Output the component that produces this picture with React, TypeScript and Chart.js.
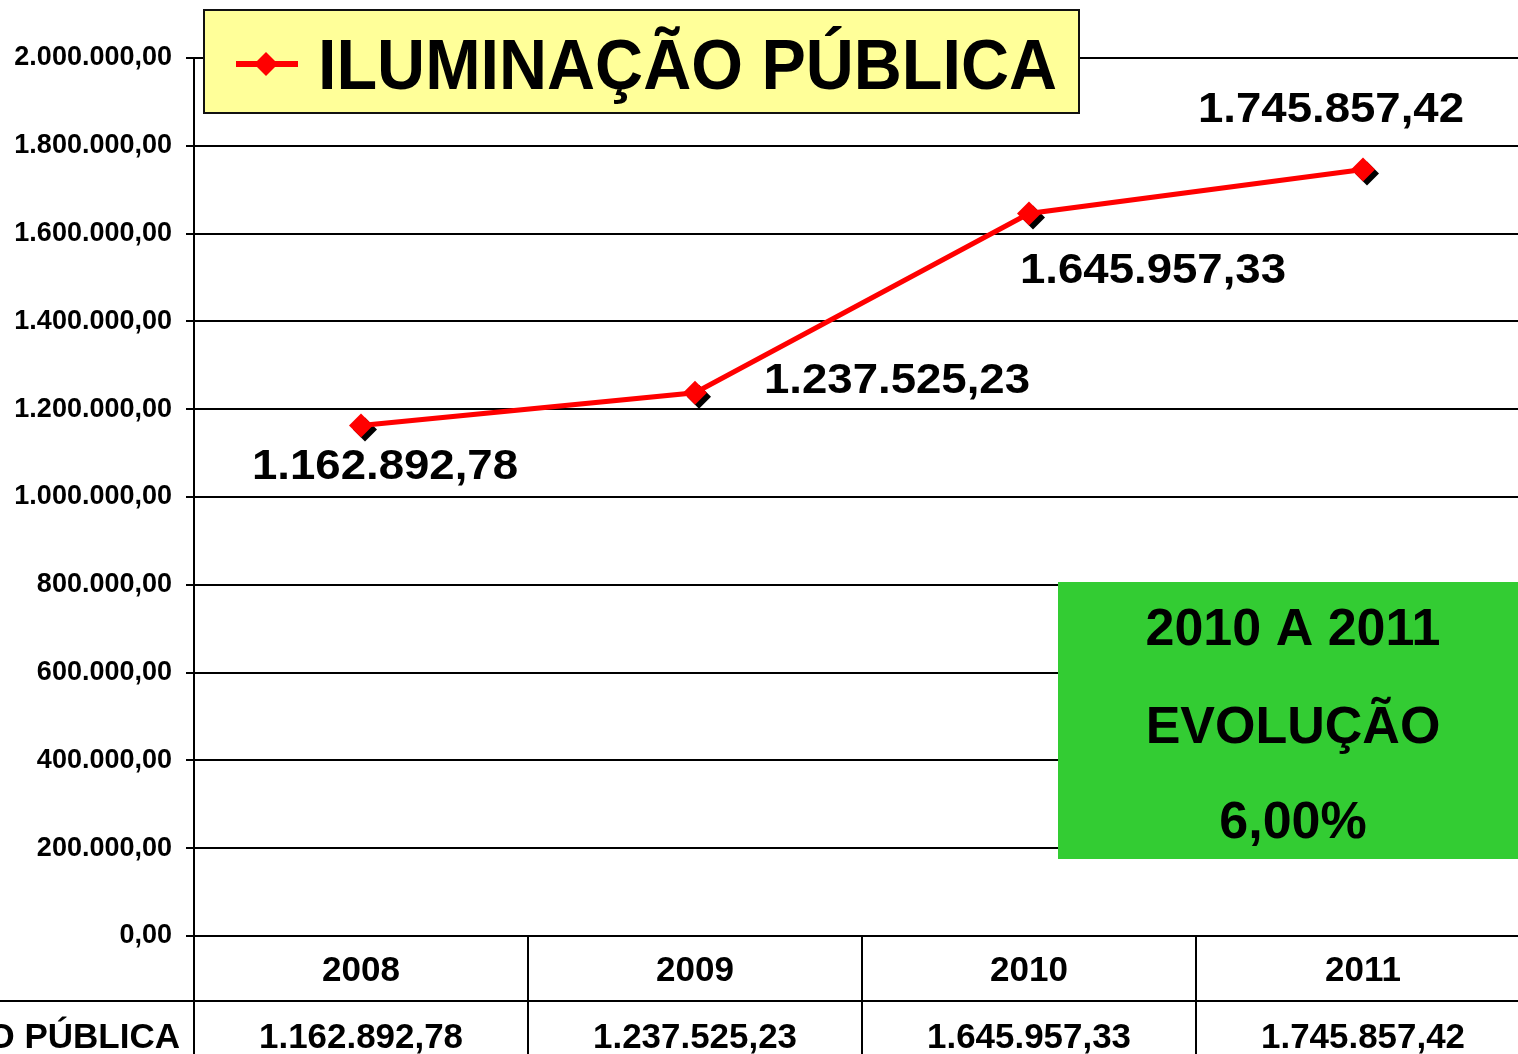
import React, { useEffect, useRef } from "react";
import { Chart, registerables } from "chart.js";

Chart.register(...registerables);

// ---- data ----
const categories = ["2008", "2009", "2010", "2011"];
const seriesName = "ILUMINAÇÃO PÚBLICA";
const values = [1162892.78, 1237525.23, 1645957.33, 1745857.42];
const yMin = 0;
const yMax = 2000000;
const yStep = 200000;
const boxLines = ["2010 A 2011", "EVOLUÇÃO", "6,00%"];

// ---- styling / placement (not data) ----
const FONT = "'Liberation Sans', Arial, Helvetica, sans-serif";
const RED = "#FF0000";
const CANVAS_W = 1530;
const CANVAS_H = 1054;
const labelOffsets: [number, number][] = [
  [24, 54],
  [202, 0],
  [124, 70],
  [-32, -48],
];

function fmtBR(v: number): string {
  const fixed = Math.abs(v).toFixed(2);
  const [int, dec] = fixed.split(".");
  const withDots = int.replace(/\B(?=(\d{3})+(?!\d))/g, ".");
  return (v < 0 ? "-" : "") + withDots + "," + dec;
}

function diamond(ctx: CanvasRenderingContext2D, x: number, y: number, r: number) {
  ctx.beginPath();
  ctx.moveTo(x - r, y);
  ctx.lineTo(x, y - r);
  ctx.lineTo(x + r, y);
  ctx.lineTo(x, y + r);
  ctx.closePath();
  ctx.fill();
}

function fitText(
  ctx: CanvasRenderingContext2D,
  text: string,
  x: number,
  y: number,
  size: number,
  width: number | null,
  align: CanvasTextAlign
) {
  ctx.save();
  ctx.font = `bold ${size}px ${FONT}`;
  ctx.textBaseline = "alphabetic";
  ctx.textAlign = align;
  const w = ctx.measureText(text).width;
  const sx = width ? width / w : 1;
  ctx.translate(x, y);
  ctx.scale(sx, 1);
  ctx.fillText(text, 0, 0);
  ctx.restore();
}

const decorPlugin = {
  id: "decor",
  beforeDatasetsDraw(chart: any) {
    const ctx: CanvasRenderingContext2D = chart.ctx;
    const meta = chart.getDatasetMeta(0);
    ctx.save();
    ctx.fillStyle = "#000";
    meta.data.forEach((pt: any) => diamond(ctx, pt.x + 4, pt.y + 4, 12));
    ctx.restore();
  },
  afterDraw(chart: any) {
    const ctx: CanvasRenderingContext2D = chart.ctx;
    const { chartArea } = chart;
    const xs = chart.scales.x;
    const H = chart.height;
    const W = chart.width;
    const meta = chart.getDatasetMeta(0);

    // data table lines
    ctx.save();
    ctx.strokeStyle = "#000";
    ctx.lineWidth = 2;
    ctx.beginPath();
    ctx.moveTo(chartArea.left, chartArea.bottom);
    ctx.lineTo(chartArea.left, H);
    for (let i = 0; i < categories.length - 1; i++) {
      const bx = Math.round((xs.getPixelForValue(i) + xs.getPixelForValue(i + 1)) / 2);
      ctx.moveTo(bx, chartArea.bottom);
      ctx.lineTo(bx, H);
    }
    ctx.moveTo(0, 1001);
    ctx.lineTo(W, 1001);
    ctx.stroke();
    ctx.restore();

    // data table values row
    ctx.fillStyle = "#000";
    values.forEach((v, i) => {
      fitText(ctx, fmtBR(v), xs.getPixelForValue(i), 1048, 35, 204, "center");
    });
    fitText(ctx, seriesName, chartArea.left - 14, 1048, 35, null, "right");

    // data labels
    meta.data.forEach((pt: any, i: number) => {
      const [dx, dy] = labelOffsets[i];
      fitText(ctx, fmtBR(values[i]), pt.x + dx, pt.y + dy, 43, 266, "center");
    });

    // legend / title box
    ctx.save();
    ctx.fillStyle = "#FFFF99";
    ctx.fillRect(204, 10, 875, 103);
    ctx.strokeStyle = "#111";
    ctx.lineWidth = 2;
    ctx.strokeRect(204, 10, 875, 103);
    ctx.strokeStyle = RED;
    ctx.lineWidth = 6;
    ctx.beginPath();
    ctx.moveTo(236, 64);
    ctx.lineTo(298, 64);
    ctx.stroke();
    ctx.fillStyle = RED;
    diamond(ctx, 266, 64, 12);
    ctx.restore();
    ctx.fillStyle = "#000";
    fitText(ctx, seriesName, 318, 89, 70, 739, "left");

    // green annotation box
    ctx.save();
    ctx.fillStyle = "#33CC33";
    ctx.fillRect(1058, 582, W - 1058, 277);
    ctx.restore();
    const cx = 1293;
    const baselines = [645, 743, 838];
    boxLines.forEach((t, i) => fitText(ctx, t, cx, baselines[i], 52, null, "center"));
  },
};

export default function App() {
  const ref = useRef<HTMLCanvasElement | null>(null);
  useEffect(() => {
    if (!ref.current) return;
    const chart = new Chart(ref.current, {
      type: "line",
      data: {
        labels: categories,
        datasets: [
          {
            label: seriesName,
            data: values,
            borderColor: RED,
            backgroundColor: RED,
            borderWidth: 5,
            pointStyle: "rectRot",
            pointRadius: 12,
            pointBorderWidth: 0,
            pointBackgroundColor: RED,
            pointBorderColor: RED,
            tension: 0,
            clip: false,
          },
        ],
      },
      options: {
        responsive: false,
        animation: false,
        layout: { autoPadding: false, padding: { top: 58, left: 0, right: 0, bottom: 0 } },
        plugins: { legend: { display: false }, tooltip: { enabled: false } },
        scales: {
          x: {
            offset: true,
            grid: { display: false, drawTicks: false },
            border: { display: false },
            ticks: {
              color: "#000",
              font: { family: FONT, size: 35, weight: "bold" },
              padding: 14,
            },
            afterFit: (s: any) => {
              s.height = 118;
              s.paddingLeft = 0;
              s.paddingRight = 0;
            },
          },
          y: {
            min: yMin,
            max: yMax,
            border: { display: true, color: "#000", width: 2 },
            grid: { color: "#000", lineWidth: 2, tickLength: 8, drawTicks: true },
            ticks: {
              stepSize: yStep,
              color: "#000",
              padding: 14,
              font: { family: FONT, size: 27, weight: "bold" },
              callback: (v: any) => fmtBR(Number(v)),
            },
            afterFit: (s: any) => {
              s.width = 194;
              s.paddingTop = 0;
              s.paddingBottom = 0;
            },
          },
        },
      },
      plugins: [decorPlugin],
    } as any);
    return () => chart.destroy();
  }, []);
  return (
    <div
      style={{
        position: "fixed",
        left: 0,
        top: 0,
        width: 1518,
        height: 1054,
        overflow: "hidden",
        background: "#fff",
      }}
    >
      <div style={{ position: "relative", width: CANVAS_W, height: CANVAS_H }}>
        <canvas
          ref={ref}
          width={CANVAS_W}
          height={CANVAS_H}
          style={{ display: "block", width: CANVAS_W, height: CANVAS_H }}
        />
      </div>
    </div>
  );
}
